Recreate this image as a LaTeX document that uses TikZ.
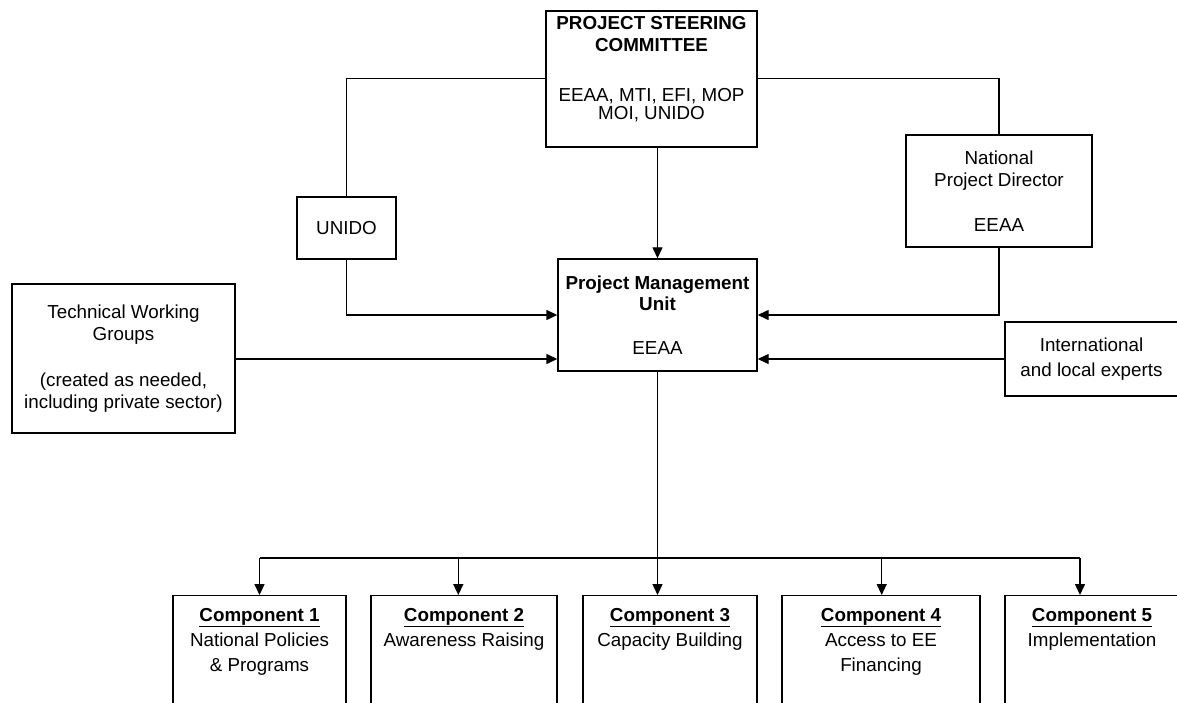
\documentclass[tikz,border=0pt]{standalone}
\usepackage{fontspec}
\setmainfont{Liberation Sans}
\usetikzlibrary{arrows.meta}
\tikzset{
  box/.style={draw, line width=1.4pt, rectangle, inner sep=0pt, align=center,
    font=\fontsize{18.8}{22.5}\selectfont},
  conn/.style={line width=1.4pt},
  arr/.style={line width=1.4pt, -{Triangle[width=10pt,length=11pt]}},
  toplab/.style={anchor=north, align=center, inner sep=0pt, font=\fontsize{18.8}{25}\selectfont}
}
\begin{document}
\begin{tikzpicture}[x=1pt, y=-1pt]
\useasboundingbox (0,0) rectangle (1177,703);
\clip (0,0) rectangle (1177,703);
\fill[white] (0,0) rectangle (1177,703);

% boxes
\node[box, minimum width=211pt, minimum height=136pt,
  label={[toplab, font=\fontsize{18.8}{22}\selectfont, yshift=-6pt]north:{\textbf{PROJECT STEERING}\\\textbf{COMMITTEE}\\[27.5pt]EEAA, MTI, EFI, MOP\\[-3.5pt]MOI, UNIDO}}]
  (psc) at (651.5,79) {};
\node[box, minimum width=99pt, minimum height=62pt] (unido) at (346.5,228) {UNIDO};
\node[box, minimum width=186pt, minimum height=112pt] (npd) at (999,191)
  {National\\Project Director\\[22pt]EEAA};
\node[box, minimum width=199pt, minimum height=112pt] (pmu) at (657.5,315)
  {\textbf{Project Management}\\[-1.5pt]\textbf{Unit}\\[22pt]EEAA};
\node[box, minimum width=223pt, minimum height=149pt] (twg) at (123.5,358.5)
  {Technical Working\\Groups\\[23pt](created as needed,\\including private sector)};
\node[box, minimum width=173pt, minimum height=74pt] (intl) at (1091.5,359)
  {International\\[2pt]and local experts};

% component boxes (cut off at the bottom)
\node[box, minimum width=173pt, minimum height=140pt, anchor=north,
  label={[toplab, yshift=-13pt]north:{\textbf{\underline{Component 1}}\\National Policies\\\& Programs}}]
  (c1) at (259.5,595) {};
\node[box, minimum width=186pt, minimum height=140pt, anchor=north,
  label={[toplab, yshift=-13pt]north:{\textbf{\underline{Component 2}}\\Awareness Raising}}]
  (c2) at (464,595) {};
\node[box, minimum width=174pt, minimum height=140pt, anchor=north,
  label={[toplab, yshift=-13pt]north:{\textbf{\underline{Component 3}}\\Capacity Building}}]
  (c3) at (670,595) {};
\node[box, minimum width=198pt, minimum height=140pt, anchor=north,
  label={[toplab, yshift=-13pt]north:{\textbf{\underline{Component 4}}\\Access to EE\\Financing}}]
  (c4) at (881,595) {};
\node[box, minimum width=174pt, minimum height=140pt, anchor=north,
  label={[toplab, yshift=-13pt]north:{\textbf{\underline{Component 5}}\\Implementation}}]
  (c5) at (1092,595) {};

% helper coordinates
\coordinate (ly) at (0,78.5);
\coordinate (r1) at (0,315);
\coordinate (r2) at (0,359);
\coordinate (bus) at (0,558);
\coordinate (b1) at (259.5,558);
\coordinate (b2) at (458.3,558);
\coordinate (b4) at (881.7,558);
\coordinate (b5) at (1080,558);

% connectors
\draw[conn] (psc.west |- ly) -| (unido.north);
\draw[conn] (psc.east |- ly) -| (npd.north);
\draw[arr] (psc.south -| pmu.north) -- (pmu.north);
\draw[arr] (unido.south) |- (pmu.west |- r1);
\draw[arr] (npd.south) |- (pmu.east |- r1);
\draw[arr] (twg.east |- r2) -- (pmu.west |- r2);
\draw[arr] (intl.west |- r2) -- (pmu.east |- r2);
\draw[conn] (pmu.south) -- (pmu.south |- bus);
\draw[conn] (b1) -- (b5);
\draw[arr] (b1) -- (b1 |- c1.north);
\draw[arr] (b2) -- (b2 |- c2.north);
\draw[arr] (pmu.south |- bus) -- (pmu.south |- c3.north);
\draw[arr] (b4) -- (b4 |- c4.north);
\draw[arr] (b5) -- (b5 |- c5.north);
\end{tikzpicture}
\end{document}
